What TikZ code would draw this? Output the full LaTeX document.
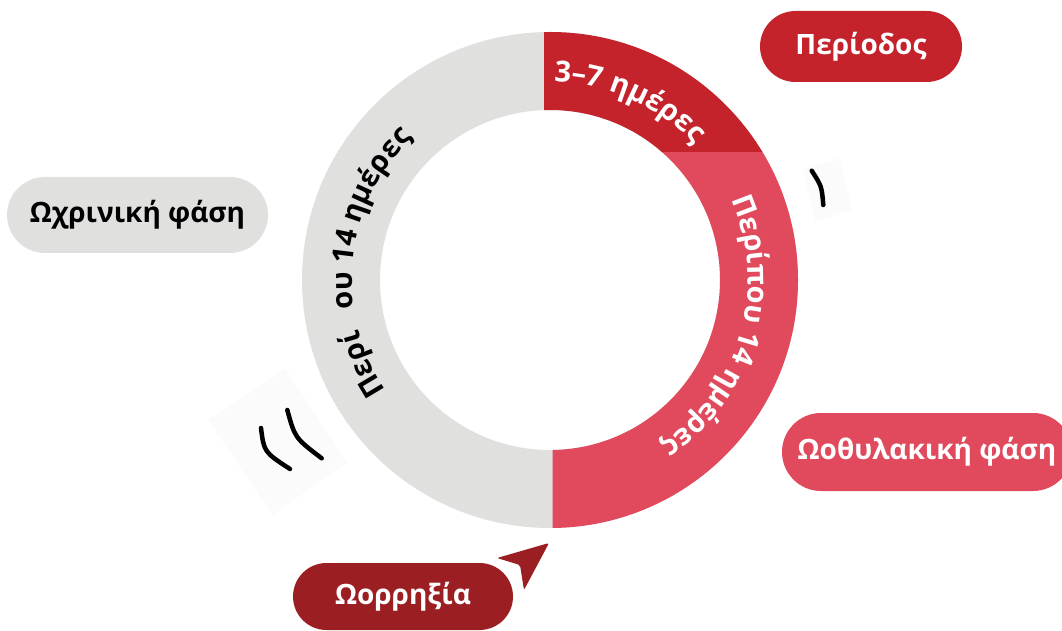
\documentclass[tikz,border=0pt]{standalone}
\usepackage{fontspec}
\setmainfont{Open Sans}
\usepackage{xcolor}
\usetikzlibrary{shapes.misc, decorations.text}
\definecolor{periodred}{HTML}{C4232C}
\definecolor{follired}{HTML}{E04A5C}
\definecolor{ovulred}{HTML}{9B1E22}
\definecolor{lutgray}{HTML}{E0E0DF}
\newcommand{\ringfont}{\bfseries\fontsize{29}{32}\selectfont}
\tikzset{
x=1pt, y=1pt, % one unit is one pixel of the sketch
pill/.style={rounded rectangle, inner sep=0pt, font=\bfseries\fontsize{28}{31}\selectfont}, % the phase labels
ringtext/.style={decorate, decoration={text along path, text align=center, text={#1}}}, % text on the ring
scribble/.style={line width=4.5pt, line cap=round}, % little hand drawn strokes
}

\begin{document}
\begin{tikzpicture}
    \useasboundingbox (0,0) rectangle (1062,630);
    \clip (0,0) rectangle (1062,630);
    \coordinate (c) at (550,350);

    % the ring
    \fill[lutgray, even odd rule] (c) circle (248) (c) circle (170);
    \begin{scope}
        \clip (552.7,0) rectangle (900,478);
        \fill[follired, even odd rule] (c) circle (248) (c) circle (170);
    \end{scope}
    \begin{scope}
        \clip (544,478) rectangle (900,630);
        \fill[periodred, even odd rule] (c) circle (248) (c) circle (170);
    \end{scope}

    \path[ringtext={|\ringfont\color{white}|3–7 ημέρες}] (c) ++(106:198) arc (106:26:198);
    \path[ringtext={|\ringfont\color{white}|Περίπου 14 ημέρες}] (c) ++(39:198) arc (39:-71:198);
    \path[ringtext={|\ringfont|Περί{\phantom{π}}ου 14 ημέρες}] (c) ++(229:198) arc (229:119:198);

    % labels
    \node[pill, fill=periodred, text=white, minimum width=202pt, minimum height=71pt] (period) at (861,583.5) {Περίοδος};
    \node[pill, fill=lutgray, minimum width=261pt, minimum height=76pt] (luteal) at (137.5,415) {Ωχρινική φάση};
    \node[pill, fill=follired, text=white, minimum width=290pt, minimum height=78pt] (follicular) at (927,178) {Ωοθυλακική φάση};
    \node[pill, fill=ovulred, text=white, minimum width=220pt, minimum height=67pt] (ovulation) at (403,33.5) {Ωορρηξία};

    % pointer
    \fill[ovulred, rounded corners=2pt] (549,87) -- (497,72) -- (520,65) -- (524,40) -- cycle;

    % strokes
    \fill[black!1.5] (285,262) -- (208,210) -- (272,115) -- (348,167) -- cycle;
    \fill[black!1.5] (803,460) -- (840,472) -- (852,420) -- (815,408) -- cycle;
    \draw[scribble] (261,202) .. controls (264,178) .. (290,161);
    \draw[scribble] (287.3,220) .. controls (295,192) .. (321.7,171.7);
    \draw[scribble] (811.7,459.3) .. controls (821.7,443.7) .. (823.3,425);
\end{tikzpicture}
\end{document}
